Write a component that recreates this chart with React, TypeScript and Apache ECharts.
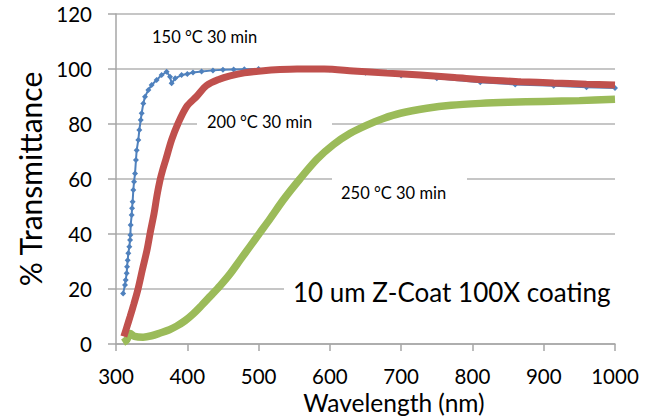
import React, { useEffect, useRef } from "react";
import * as echarts from "echarts";

// 150 °C 30 min
const blueX = [310, 312.6, 313.6, 315, 315.5, 316.4, 317.3, 318.7, 319.7, 320.2, 320.6, 322, 322.5, 323.3, 324.3, 325.3, 326.7, 328, 329, 331.3, 332.7, 334.7, 336, 338.3, 340.7, 345.4, 350, 357, 364, 371, 375.8, 378, 383, 392, 400, 408, 420, 436, 450, 465, 480, 500, 540, 600, 650, 700, 750, 811, 860, 914, 960, 1000];
const blueY = [18.4, 21.5, 23.3, 25.7, 28.1, 30.5, 33, 35.4, 37.8, 39.6, 43.3, 46.9, 49.4, 51.7, 56, 59, 62, 66.9, 70.5, 74.2, 77.8, 81.5, 83.9, 87.5, 89.9, 92.4, 94.2, 96, 97.8, 99, 97.2, 94.8, 96.6, 97.8, 98.2, 98.7, 99.1, 99.5, 99.7, 99.8, 99.9, 100, 100, 99.8, 98.6, 97.6, 96.6, 95.2, 94.4, 93.9, 93.4, 93.1];

// 200 °C 30 min
const redX = [311, 315, 319.7, 325, 330.5, 337, 343.5, 348, 353.4, 357.5, 361.8, 365.5, 369.7, 378, 387, 399, 413, 427, 445, 460, 480, 507, 530, 554, 592, 633, 680, 727, 775, 821, 868, 914, 960, 1000];
const redY = [2.7, 6, 9.9, 14.5, 19.6, 27, 34.2, 40.5, 47.5, 54, 59.6, 63.3, 66.9, 74.2, 80.2, 86.3, 90, 94, 96.3, 97.5, 98.6, 99.4, 99.8, 100, 100, 99.3, 98.5, 97.8, 96.9, 96, 95.4, 94.9, 94.5, 94.2];

// 250 °C 30 min
const greenX = [310, 315, 320, 326, 338, 350, 362, 375, 385, 397, 408.5, 420, 432, 446, 460, 474, 488, 502, 516, 535, 558, 582, 605, 628.6, 652, 675, 699, 736, 770, 811, 850, 900, 950, 1000];
const greenY = [0.5, 1.5, 3.8, 2.8, 2.5, 3, 4, 5.2, 6.5, 8.5, 11, 14, 17.3, 21.2, 25.5, 30.5, 35.5, 40.5, 45.5, 52.5, 60, 67.2, 72.5, 76.6, 79.6, 82, 83.9, 85.7, 86.8, 87.5, 87.9, 88.2, 88.5, 89];

const xTicks = [300, 400, 500, 600, 700, 800, 900, 1000];
const yTicks = [0, 20, 40, 60, 80, 100, 120];

const seriesNames = ["150 °C 30 min", "200 °C 30 min", "250 °C 30 min"];
const noteText = "10 um Z-Coat 100X coating";
const xTitle = "Wavelength (nm)";
const yTitle = "% Transmittance";

const FONT = "Lato, 'Liberation Sans', sans-serif";

export default function App() {
  const ref = useRef<HTMLDivElement>(null);
  useEffect(() => {
    if (!ref.current) return;
    const chart = echarts.init(ref.current, undefined, { renderer: "svg" });
    const zip = (xs: number[], ys: number[]) => xs.map((x, i) => [x, ys[i]]);
    chart.setOption({
      animation: false,
      backgroundColor: "#ffffff",
      textStyle: { fontFamily: FONT },
      grid: { left: 116, right: 41, top: 14, bottom: 74, containLabel: false },
      xAxis: {
        type: "value",
        min: xTicks[0],
        max: xTicks[xTicks.length - 1],
        interval: 100,
        axisLine: { show: true, lineStyle: { color: "#a6a6a6", width: 1.5 } },
        axisTick: { show: true, length: 7, lineStyle: { color: "#a6a6a6", width: 1.5 } },
        splitLine: { show: false },
        axisLabel: { fontSize: 20.5, lineHeight: 20, color: "#000", margin: 22, fontFamily: FONT, formatter: (v: number) => String(v) },
      },
      yAxis: {
        type: "value",
        min: yTicks[0],
        max: yTicks[yTicks.length - 1],
        interval: 20,
        name: yTitle,
        nameLocation: "middle",
        nameGap: 70,
        nameTextStyle: { fontSize: 30, color: "#000", fontFamily: FONT },
        axisLine: { show: true, lineStyle: { color: "#a6a6a6", width: 1.5 } },
        axisTick: { show: true, length: 8, lineStyle: { color: "#a6a6a6", width: 1.5 } },
        splitLine: { show: true, lineStyle: { color: "#b3b3b3", width: 1.5 } },
        axisLabel: { fontSize: 20.5, color: "#000", margin: 24, fontFamily: FONT, formatter: (v: number) => String(v) },
      },
      graphic: [
        { type: "rect", z: 1, shape: { x: 197, y: 119, width: 135, height: 10 }, style: { fill: "#fff" } },
        { type: "rect", z: 1, shape: { x: 332, y: 174, width: 135, height: 10 }, style: { fill: "#fff" } },
        { type: "rect", z: 1, shape: { x: 284, y: 284, width: 340, height: 10 }, style: { fill: "#fff" } },
        { type: "text", z: 5, x: 152, y: 37, style: { text: seriesNames[0], font: `16.5px ${FONT}`, fill: "#000", verticalAlign: "middle" } },
        { type: "text", z: 5, x: 207, y: 122, style: { text: seriesNames[1], font: `16.5px ${FONT}`, fill: "#000", verticalAlign: "middle" } },
        { type: "text", z: 5, x: 341, y: 193, style: { text: seriesNames[2], font: `16.5px ${FONT}`, fill: "#000", verticalAlign: "middle" } },
        { type: "text", z: 5, x: 293, y: 292, style: { text: noteText, font: `26px ${FONT}`, fill: "#000", verticalAlign: "middle" } },
        { type: "text", z: 5, x: 394, y: 402, style: { text: xTitle, font: `24.5px ${FONT}`, lineHeight: 24, fill: "#000", align: "center", verticalAlign: "middle" } },
      ],
      series: [
        {
          name: seriesNames[2],
          type: "line",
          z: 2,
          smooth: 0.3,
          data: zip(greenX, greenY),
          showSymbol: false,
          lineStyle: { color: "#9bbb59", width: 7.5 },
          itemStyle: { color: "#9bbb59" },
        },
        {
          name: seriesNames[0],
          type: "line",
          z: 3,
          data: zip(blueX, blueY),
          symbol: "diamond",
          symbolSize: 6,
          showSymbol: true,
          showAllSymbol: true,
          lineStyle: { color: "#4f81bd", width: 2 },
          itemStyle: { color: "#4f81bd" },
        },
        {
          name: seriesNames[1],
          type: "line",
          z: 4,
          smooth: 0.3,
          data: zip(redX, redY),
          showSymbol: false,
          lineStyle: { color: "#c0504d", width: 7 },
          itemStyle: { color: "#c0504d" },
        },
      ],
    });
    return () => chart.dispose();
  }, []);
  return <div ref={ref} style={{ width: 656, height: 418, position: "absolute", left: 0, top: 0 }} />;
}
